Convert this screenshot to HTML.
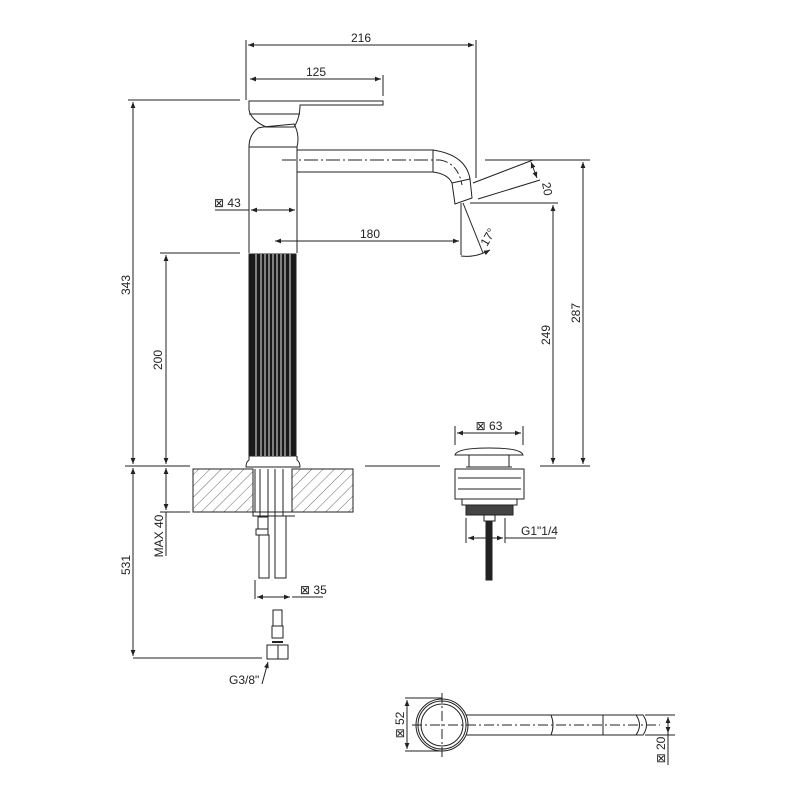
<!DOCTYPE html>
<html><head><meta charset="utf-8"><style>html,body{margin:0;padding:0;background:#fff}svg{display:block}</style></head>
<body>
<svg width="800" height="800" viewBox="0 0 800 800" xmlns="http://www.w3.org/2000/svg" font-family="Liberation Sans, DejaVu Sans, sans-serif" font-size="12" fill="none" stroke="#222" stroke-width="1">
<defs>
<marker id="a" viewBox="0 0 10 10" refX="10" refY="5" markerWidth="9" markerHeight="6" orient="auto-start-reverse" markerUnits="userSpaceOnUse"><path d="M0,1 L10,5 L0,9 z" fill="#222" stroke="none"/></marker>
<pattern id="h" width="8" height="8" patternUnits="userSpaceOnUse" patternTransform="rotate(45)"><line x1="0" y1="0" x2="0" y2="8" stroke="#444" stroke-width="0.8"/></pattern>
</defs>
<line x1="246" y1="40" x2="246" y2="100"/><line x1="476" y1="40" x2="476" y2="178"/>
<line x1="248" y1="45" x2="474" y2="45" marker-start="url(#a)" marker-end="url(#a)"/>
<text x="361" y="42" fill="#222" stroke="none" text-anchor="middle">216</text>
<line x1="383" y1="75" x2="383" y2="96"/>
<line x1="250" y1="79" x2="381" y2="79" marker-start="url(#a)" marker-end="url(#a)"/>
<text x="316" y="76" fill="#222" stroke="none" text-anchor="middle">125</text>
<path d="M249,101 L383,101 L383,105 L300,105 Q300,118 294,127 L266,127 Q251,120 249,110 Z"/>
<line x1="249" y1="114" x2="300" y2="114"/>
<path d="M263,127 L294,124 Q300,135 297,147 L249,147 Q249,135 258,128 Z"/>
<line x1="297" y1="147" x2="297" y2="253"/><line x1="249" y1="147" x2="249" y2="253"/>
<line x1="249" y1="147" x2="297" y2="147"/>
<rect x="249" y="254" width="47" height="202" fill="#1a1a1a"/>
<g stroke="#999" stroke-width="1.6">
<line x1="256" y1="254" x2="256" y2="456"/><line x1="261" y1="254" x2="261" y2="456"/><line x1="265" y1="254" x2="265" y2="456"/><line x1="269" y1="254" x2="269" y2="456"/><line x1="273" y1="254" x2="273" y2="456"/><line x1="277" y1="254" x2="277" y2="456"/><line x1="281" y1="254" x2="281" y2="456"/><line x1="285" y1="254" x2="285" y2="456"/><line x1="290" y1="254" x2="290" y2="456"/>
</g>
<path d="M249,456 L249,460 Q246,462 246,467 L300,467 Q300,462 297,460 L297,456"/>
<path d="M297,150 L433,150 Q466,155 470,179 M297,172 L433,172 Q448,174 452,183"/>
<path d="M452,183 L470,179 L472,198 L455,204 Z"/>
<line x1="433" y1="150" x2="433" y2="172"/>
<line x1="282" y1="160" x2="440" y2="160" stroke-dasharray="14,3,2,3"/>
<path d="M440,160 Q458,163 462,185" stroke-dasharray="8,3,2,3"/>
<line x1="473" y1="183" x2="533" y2="160"/><line x1="478" y1="199" x2="540" y2="180"/>
<line x1="531" y1="162" x2="537" y2="178" marker-start="url(#a)" marker-end="url(#a)"/>
<text x="542" y="183" fill="#222" stroke="none" transform="rotate(80 542 183)">20</text>
<line x1="461" y1="203" x2="461" y2="255"/><line x1="463" y1="203" x2="483" y2="253"/>
<path d="M461,256 Q475,258 490,250" marker-end="url(#a)"/>
<text x="487" y="247" fill="#222" stroke="none" transform="rotate(-60 487 247)">17°</text>
<line x1="215" y1="210" x2="249" y2="210"/>
<line x1="251" y1="210" x2="295" y2="210" marker-start="url(#a)" marker-end="url(#a)"/>
<text x="214" y="207" fill="#222" stroke="none">⊠ 43</text>
<line x1="275" y1="241" x2="459" y2="241" marker-start="url(#a)" marker-end="url(#a)"/>
<text x="370" y="238" fill="#222" stroke="none" text-anchor="middle">180</text>
<line x1="128" y1="100" x2="240" y2="100"/>
<line x1="133" y1="102" x2="133" y2="464" marker-start="url(#a)" marker-end="url(#a)"/>
<text x="130" y="285" fill="#222" stroke="none" transform="rotate(-90 130 285)" text-anchor="middle">343</text>
<line x1="160" y1="253" x2="240" y2="253"/>
<line x1="166" y1="255" x2="166" y2="464" marker-start="url(#a)" marker-end="url(#a)"/>
<text x="162" y="360" fill="#222" stroke="none" transform="rotate(-90 162 360)" text-anchor="middle">200</text>
<line x1="160" y1="512" x2="190" y2="512"/>
<line x1="166" y1="468" x2="166" y2="510" marker-start="url(#a)" marker-end="url(#a)"/>
<line x1="166" y1="512" x2="166" y2="556"/>
<text x="163" y="536" fill="#222" stroke="none" transform="rotate(-90 163 536)" text-anchor="middle">MAX 40</text>
<line x1="133" y1="468" x2="133" y2="656" marker-start="url(#a)" marker-end="url(#a)"/>
<line x1="133" y1="658" x2="262" y2="658"/>
<text x="130" y="565" fill="#222" stroke="none" transform="rotate(-90 130 565)" text-anchor="middle">531</text>
<line x1="125" y1="466" x2="190" y2="466"/><line x1="365" y1="466" x2="440" y2="466"/><line x1="540" y1="466" x2="590" y2="466"/>
<rect x="193" y="469" width="60" height="43" fill="url(#h)" stroke="#222"/>
<rect x="292" y="469" width="61" height="43" fill="url(#h)" stroke="#222"/>
<path d="M255,469 L255,512 M292,469 L292,512 M248,512 L299,512 M253,512 L253,516 L295,516"/>
<path d="M260,469 L260,516 M268,469 L268,516 M275,469 L275,516 M283,469 L283,516"/>
<rect x="258" y="517" width="10" height="12"/><rect x="256" y="529" width="12" height="6"/>
<rect x="259" y="535" width="10" height="43"/><rect x="275" y="516" width="11" height="62"/>
<line x1="255" y1="580" x2="255" y2="599"/>
<line x1="257" y1="597" x2="290" y2="597" marker-start="url(#a)" marker-end="url(#a)"/>
<line x1="292" y1="597" x2="323" y2="597"/>
<text x="300" y="594" fill="#222" stroke="none">⊠ 35</text>
<rect x="273" y="610" width="9" height="16"/><rect x="272" y="626" width="11" height="12"/>
<line x1="272" y1="642" x2="283" y2="642" stroke-width="2"/>
<rect x="267" y="645" width="21" height="14"/>
<line x1="278" y1="645" x2="278" y2="659"/>
<line x1="262" y1="684" x2="268" y2="662" marker-end="url(#a)"/>
<text x="229" y="684" fill="#222" stroke="none">G3/8"</text>
<line x1="455" y1="426" x2="455" y2="445"/><line x1="523" y1="426" x2="523" y2="445"/>
<line x1="457" y1="433" x2="521" y2="433" marker-start="url(#a)" marker-end="url(#a)"/>
<text x="489" y="430" fill="#222" stroke="none" text-anchor="middle">⊠ 63</text>
<path d="M455,455 Q457,448 489,448 Q521,448 523,455 Z"/>
<rect x="469" y="455" width="40" height="12"/><line x1="466" y1="467" x2="512" y2="467"/>
<rect x="455" y="469" width="69" height="30"/>
<line x1="458" y1="478" x2="521" y2="478"/><line x1="458" y1="489" x2="521" y2="489"/>
<rect x="462" y="499" width="55" height="6"/>
<rect x="466" y="505" width="47" height="10" fill="#444"/>
<rect x="484" y="515" width="11" height="6"/>
<rect x="486" y="521" width="6" height="59" fill="#222"/>
<line x1="466" y1="518" x2="466" y2="543"/><line x1="505" y1="518" x2="505" y2="543"/>
<line x1="468" y1="538" x2="503" y2="538" marker-start="url(#a)" marker-end="url(#a)"/>
<line x1="505" y1="538" x2="556" y2="538"/>
<text x="521" y="535" fill="#222" stroke="none">G1"1/4</text>
<line x1="485" y1="160" x2="590" y2="160"/>
<line x1="583" y1="162" x2="583" y2="464" marker-start="url(#a)" marker-end="url(#a)"/>
<text x="580" y="313" fill="#222" stroke="none" transform="rotate(-90 580 313)" text-anchor="middle">287</text>
<line x1="470" y1="203" x2="558" y2="203"/>
<line x1="553" y1="205" x2="553" y2="464" marker-start="url(#a)" marker-end="url(#a)"/>
<text x="550" y="335" fill="#222" stroke="none" transform="rotate(-90 550 335)" text-anchor="middle">249</text>
<circle cx="442" cy="725" r="26"/><circle cx="442" cy="725" r="24"/><circle cx="442" cy="725" r="21"/>
<path d="M466,715 L643,715 Q650,725 643,735 L466,735"/>
<path d="M551,715 Q555,725 551,735"/><line x1="603" y1="715" x2="603" y2="735"/>
<path d="M636,715 Q643,725 636,735"/>
<line x1="412" y1="725" x2="660" y2="725" stroke-dasharray="10,3,2,3"/>
<line x1="442" y1="693" x2="442" y2="757" stroke-dasharray="10,3,2,3"/>
<line x1="405" y1="698" x2="442" y2="698"/><line x1="405" y1="751" x2="442" y2="751"/>
<line x1="407" y1="700" x2="407" y2="749" marker-start="url(#a)" marker-end="url(#a)"/>
<text x="404" y="725" fill="#222" stroke="none" transform="rotate(-90 404 725)" text-anchor="middle">⊠ 52</text>
<line x1="645" y1="715" x2="675" y2="715"/><line x1="645" y1="735" x2="675" y2="735"/>
<line x1="668" y1="717" x2="668" y2="733" marker-start="url(#a)" marker-end="url(#a)"/>
<line x1="668" y1="733" x2="668" y2="765"/>
<text x="665" y="750" fill="#222" stroke="none" transform="rotate(-90 665 750)" text-anchor="middle">⊠ 20</text>
</svg>
</body></html>
